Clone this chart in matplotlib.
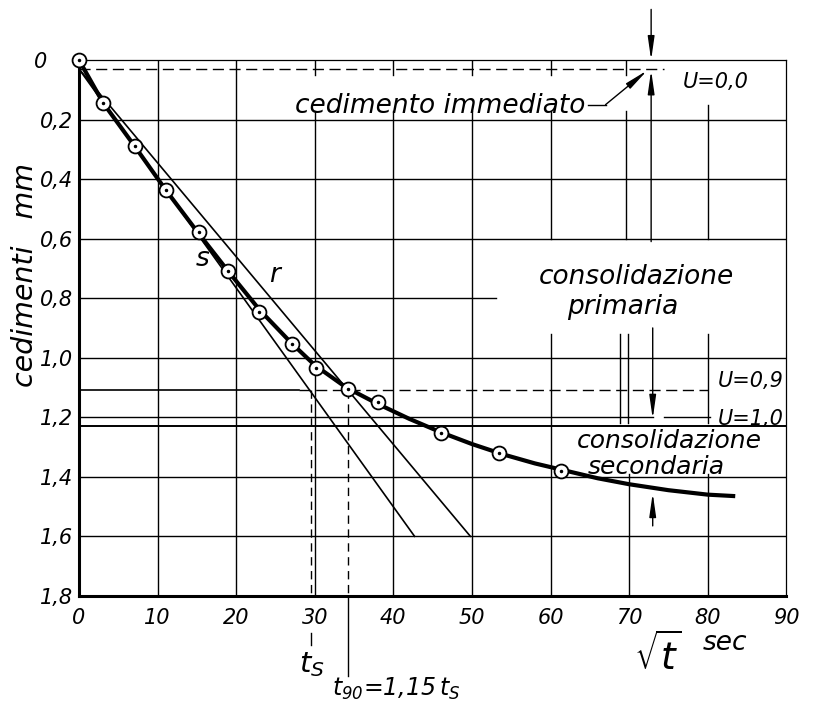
import matplotlib
matplotlib.use('Agg')
import matplotlib.pyplot as plt

plt.rcParams['font.family'] = 'DejaVu Sans'
plt.rcParams['font.style'] = 'oblique'
plt.rcParams['mathtext.default'] = 'it'

# letture: radice del tempo (sec^0.5) e cedimenti (mm)
radice_t = [0, 3.1, 7.1, 11.1, 15.3, 19.0, 22.9, 27.1, 30.1, 34.2, 38.0, 46.1, 53.5, 61.3]
cedimenti = [0, 0.145, 0.29, 0.436, 0.577, 0.708, 0.847, 0.953, 1.034, 1.105, 1.15, 1.253, 1.32, 1.38]

# curva tracciata a mano attraverso i punti
curva_x = [0, 3.1, 7.1, 11, 15, 19, 23, 27, 30, 34, 38, 42, 46, 50, 54, 58, 62, 66, 70, 75, 80, 83.5]
curva_y = [0, 0.145, 0.29, 0.435, 0.575, 0.71, 0.84, 0.95, 1.025, 1.10, 1.155, 1.205, 1.25, 1.29,
           1.325, 1.355, 1.38, 1.405, 1.425, 1.445, 1.46, 1.465]

# costruzione di Taylor
u0 = 0.03      # U = 0,0
u90 = 1.11     # U = 0,9
u100 = 1.23    # U = 1,0
t_s = 29.5
t_90 = 34.2
retta_s_x = [0, 42.7]
retta_s_y = [u0, 1.6]
retta_r_x = [0, 49.8]
retta_r_y = [u0, 1.6]

x_ticks = [0, 10, 20, 30, 40, 50, 60, 70, 80, 90]
y_ticks = [0, 0.2, 0.4, 0.6, 0.8, 1.0, 1.2, 1.4, 1.6, 1.8]
y_labels = ['0    ', '0,2', '0,4', '0,6', '0,8', '1,0', '1,2', '1,4', '1,6', '1,8']

# reticolo disegnato a tratti (interrotto dove ci sono le scritte)
griglia_h = [(0.2, 0, 90), (0.4, 0, 90), (0.6, 0, 90), (0.8, 0, 53), (1.0, 0, 90),
             (1.2, 0, 73), (1.2, 74.5, 80.3), (1.4, 0, 90), (1.6, 0, 90)]
griglia_v = [(10, 0, 1.8), (20, 0, 1.8),
             (30, 0, 0.05), (30, 0.17, 1.8), (40, 0, 0.05), (40, 0.17, 1.8),
             (50, 0, 0.05), (50, 0.17, 1.8), (60, 0, 0.05), (60, 0.17, 0.6), (60, 0.92, 1.8),
             (69.6, 0, 0.05), (69.6, 0.17, 0.6), (68.8, 0.92, 1.22), (69.8, 0.92, 1.22),
             (70, 1.39, 1.8), (80, 0.15, 0.6), (80, 0.92, 1.22), (80, 1.39, 1.8)]

font = {'family': 'DejaVu Sans', 'style': 'oblique', 'size': 19}
font_sec = {'family': 'DejaVu Sans', 'style': 'oblique', 'size': 18}
font_u = {'family': 'DejaVu Sans', 'style': 'oblique', 'size': 15}

fig = plt.figure(figsize=(8.14, 7.06), dpi=100)
ax = fig.add_axes([0.097, 0.156, 0.869, 0.759])

for y, x0, x1 in griglia_h:
    ax.plot([x0, x1], [y, y], color='k', lw=1.0, zorder=1)
for x, y0, y1 in griglia_v:
    ax.plot([x, x], [y0, y1], color='k', lw=1.0, zorder=1)

# linee U
ax.plot([0, 74.5], [u0, u0], color='k', lw=1.0, ls=(0, (8, 4)), zorder=1)
ax.plot([0, 28], [u90, u90], color='k', lw=1.2, zorder=1)
ax.plot([28, 80], [u90, u90], color='k', lw=1.0, ls=(0, (8, 4)), zorder=1)
ax.plot([0, 90], [u100, u100], color='k', lw=1.4, zorder=1)

# rette s ed r
ax.plot(retta_s_x, retta_s_y, color='k', lw=1.2, zorder=2)
ax.plot(retta_r_x, retta_r_y, color='k', lw=1.2, zorder=2)

# verticali t_s e t_90
ax.plot([t_s, t_s], [u90, 1.8], color='k', lw=1.0, ls=(0, (6, 4)), zorder=2)
ax.plot([t_90, t_90], [u90, 1.8], color='k', lw=1.0, ls=(0, (6, 4)), zorder=2)
ax.plot([t_s, t_s], [1.925, 1.965], color='k', lw=1.0, clip_on=False)
ax.plot([t_90, t_90], [1.8, 2.07], color='k', lw=1.0, clip_on=False)

# curva e punti
ax.plot(curva_x, curva_y, color='k', lw=3.0, solid_capstyle='butt', zorder=3)
ax.plot(radice_t, cedimenti, 'o', ms=10, mfc='white', mec='k', mew=1.3, zorder=4, clip_on=False)
ax.plot(radice_t, cedimenti, 'o', ms=1.5, color='k', zorder=5, clip_on=False)

# frecce
freccia = dict(arrowstyle='-|>,head_length=0.7,head_width=0.1', color='k', lw=1.0,
               shrinkA=0, shrinkB=0, mutation_scale=20)
ax.annotate('', xy=(72.8, 0.0), xytext=(72.8, -0.17), arrowprops=freccia, annotation_clip=False)
ax.annotate('', xy=(72.8, 0.035), xytext=(72.8, 0.61), arrowprops=freccia)
ax.annotate('', xy=(73.0, 1.205), xytext=(73.0, 0.9), arrowprops=freccia)
ax.annotate('', xy=(73.0, 1.455), xytext=(73.0, 1.565), arrowprops=freccia)
ax.plot([64.8, 67.0], [0.15, 0.15], color='k', lw=1.0)
ax.annotate('', xy=(72.3, 0.035), xytext=(67.0, 0.15), arrowprops=freccia)

# scritte
ax.text(64.4, 0.178, 'cedimento immediato', ha='right', va='baseline', fontdict=font)
ax.text(70.9, 0.753, 'consolidazione', ha='center', va='baseline', fontdict=font)
ax.text(69.2, 0.853, 'primaria', ha='center', va='baseline', fontdict=font)
ax.text(75.1, 1.303, 'consolidazione', ha='center', va='baseline', fontdict=font_sec)
ax.text(73.4, 1.392, 'secondaria', ha='center', va='baseline', fontdict=font_sec)
ax.text(76.8, 0.095, 'U=0,0', ha='left', va='baseline', fontdict=font_u)
ax.text(81.3, 1.1, 'U=0,9', ha='left', va='baseline', fontdict=font_u)
ax.text(81.3, 1.225, 'U=1,0', ha='left', va='baseline', fontdict=font_u)
ax.text(15.7, 0.692, 's', ha='center', va='baseline', fontdict=font)
ax.text(24.9, 0.747, 'r', ha='center', va='baseline', fontdict=font)
ax.text(29.6, 2.03, r'$t_S$', ha='center', va='center', fontsize=21)
ax.text(32.2, 2.07, r'$t_{90}$' + '=1,15' + r'$\,t_S$', ha='left', va='top', fontsize=17)
ax.text(73.6, 2.0, r'$\sqrt{t}$', ha='center', va='center', fontsize=27)
ax.text(82.2, 1.96, 'sec', ha='center', va='center', fontdict=font)

fig.text(0.031, 0.61, 'cedimenti   mm', rotation=90, ha='center', va='center',
         fontsize=20.5, style='oblique')

ax.set_xlim(0, 90)
ax.set_ylim(1.8, 0)
ax.set_xticks(x_ticks)
ax.set_xticklabels([str(v) for v in x_ticks], fontsize=15, style='oblique')
ax.set_yticks(y_ticks)
ax.set_yticklabels(y_labels, fontsize=15, style='oblique')
ax.tick_params(length=0)
ax.tick_params(axis='x', pad=9)
ax.tick_params(axis='y', pad=4)

ax.spines['left'].set_linewidth(2.2)
ax.spines['bottom'].set_linewidth(2.2)
ax.spines['top'].set_linewidth(0.9)
ax.spines['right'].set_linewidth(0.9)

fig.savefig('out.png', dpi=100)
